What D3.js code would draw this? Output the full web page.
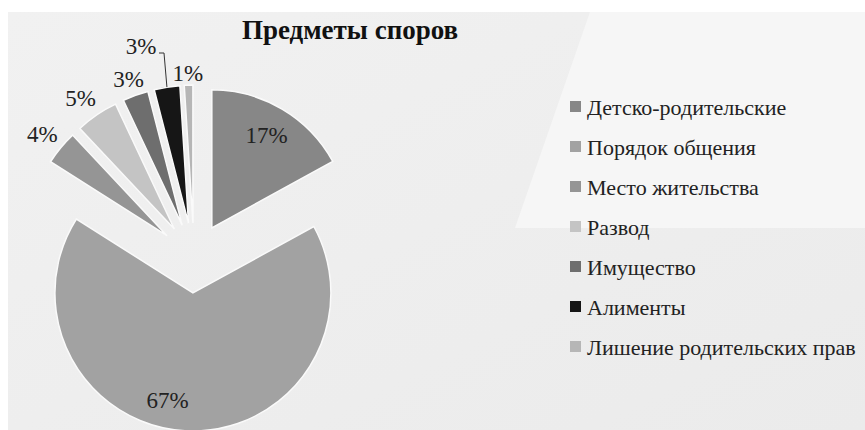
<!DOCTYPE html>
<html>
<head>
<meta charset="utf-8">
<script src="https://cdn.jsdelivr.net/npm/d3@7"></script>
<style>
  body { margin: 0; background: #fff; }
</style>
</head>
<body>
<svg id="chart" width="865" height="430"></svg>
<script>
// chart data
const categories = ['Детско-родительские', 'Порядок общения', 'Место жительства', 'Развод', 'Имущество', 'Алименты', 'Лишение родительских прав'];
const values = [17, 67, 4, 5, 3, 3, 1];
const colors = ['#878787', '#a2a2a2', '#959595', '#c4c4c4', '#6e6e6e', '#161616', '#b6b6b6'];
const title = 'Предметы споров';

const FONT = "'Liberation Serif', 'Times New Roman', Times, serif";
const svg = d3.select('#chart').attr('font-family', FONT);

// background panel
const defs = svg.append('defs');
const grad = defs.append('linearGradient').attr('id', 'bg').attr('x1', 0).attr('y1', 0).attr('x2', 1).attr('y2', 1);
grad.append('stop').attr('offset', '0%').attr('stop-color', '#f1f1f1');
grad.append('stop').attr('offset', '100%').attr('stop-color', '#ebebeb');
svg.append('rect').attr('x', 8).attr('y', 12).attr('width', 857).attr('height', 418).attr('fill', 'url(#bg)');
svg.append('polygon').attr('points', '590,12 865,12 865,228 515,228').attr('fill', '#f6f6f6');

// title
svg.append('text')
  .attr('x', 350).attr('y', 39)
  .attr('text-anchor', 'middle')
  .style('font-size', '27px').style('font-weight', 'bold').attr('fill', '#111')
  .text(title);

// pie
const cx = 194, cy = 258, radius = 138, explode = 35;
const pie = d3.pie().sort(null).value(d => d)(values);
const arc = d3.arc().innerRadius(0).outerRadius(radius);
const total = d3.sum(values);

const offset = d => {
  const a = (d.startAngle + d.endAngle) / 2;
  return [Math.sin(a) * explode, -Math.cos(a) * explode];
};

const g = svg.append('g').attr('transform', `translate(${cx},${cy})`);

g.selectAll('path')
  .data(pie)
  .enter().append('path')
  .attr('transform', d => `translate(${offset(d)})`)
  .attr('d', arc)
  .attr('fill', (d, i) => colors[i])
  .attr('stroke', '#fafafa')
  .attr('stroke-width', 1.5);

// labels: big slices inside, small outside
const labelPos = (d, i) => {
  const a = (d.startAngle + d.endAngle) / 2;
  const [ox, oy] = offset(d);
  const r = values[i] / total > 0.1 ? radius * 0.78 : radius + 20;
  let x = ox + Math.sin(a) * r, y = oy - Math.cos(a) * r;
  if (i === 1) { x -= 22; }
  if (i === 2) { x -= 3; }
  if (i === 3) { x -= 5; }
  if (i === 4) { y += 3; }
  if (i === 5) { x = -53; y = -212; }
  if (i === 6) { y += 8; }
  return [x, y];
};

g.selectAll('text.lbl')
  .data(pie)
  .enter().append('text')
  .attr('class', 'lbl')
  .attr('x', (d, i) => labelPos(d, i)[0])
  .attr('y', (d, i) => labelPos(d, i)[1])
  .attr('text-anchor', 'middle')
  .attr('dominant-baseline', 'central')
  .style('font-size', '23px').attr('fill', '#222')
  .text(d => Math.round(d.value / total * 100) + '%');

// leader line for Алименты label
const ali = pie[5];
const [ax, ay] = offset(ali);
const am = (ali.startAngle + ali.endAngle) / 2;
const tip = [ax + Math.sin(am) * radius, ay - Math.cos(am) * radius];
g.append('polyline')
  .attr('points', `${-35},${-205} ${-30},${-205} ${tip[0]},${tip[1]}`)
  .attr('fill', 'none').attr('stroke', '#333').attr('stroke-width', 1);

// legend
const legend = svg.append('g').attr('transform', 'translate(570,107)');
const rows = legend.selectAll('g')
  .data(categories)
  .enter().append('g')
  .attr('transform', (d, i) => `translate(0,${i * 40})`);
rows.append('rect')
  .attr('x', 0).attr('y', -6).attr('width', 11).attr('height', 11)
  .attr('fill', (d, i) => colors[i]);
rows.append('text')
  .attr('x', 17).attr('y', 0)
  .attr('dominant-baseline', 'central')
  .style('font-size', '22px').attr('fill', '#222')
  .text(d => d);
</script>
</body>
</html>
